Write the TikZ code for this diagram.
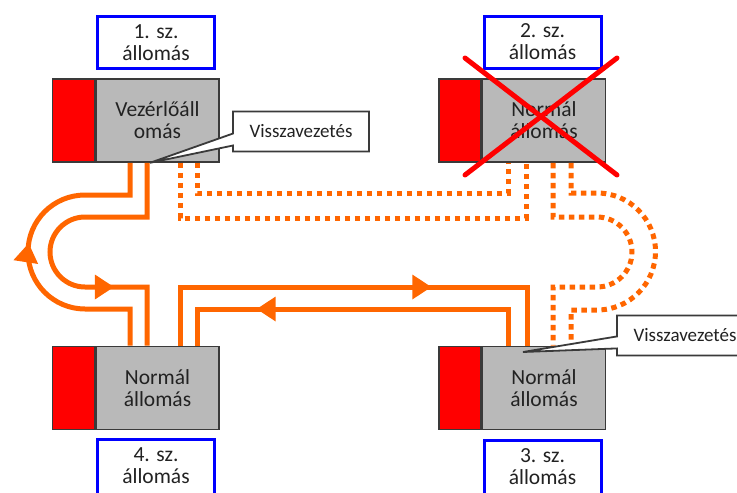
\documentclass[tikz,border=0pt]{standalone}
\usepackage{fontspec}
\setmainfont{Carlito}
\usetikzlibrary{shapes.callouts,arrows.meta,decorations.markings}

\definecolor{flow}{HTML}{FF6600}
\definecolor{boxgray}{HTML}{B9B9B9}
\definecolor{edgegray}{HTML}{3A3A3A}
\definecolor{tagblue}{HTML}{0000FF}
\definecolor{textdark}{HTML}{222222}
\definecolor{crossred}{HTML}{FF0000}

\newcommand{\stationfont}{\fontsize{21.5}{22}\selectfont}
\newcommand{\notefont}{\fontsize{19}{22}\selectfont}

\begin{document}
\begin{tikzpicture}[x=1pt, y=-1pt,
  station/.style={draw=edgegray, line width=1.6pt, fill=boxgray,
    minimum width=123pt, minimum height=83pt, inner sep=0pt,
    align=center, font=\stationfont, text=textdark},
  redpart/.style={draw=edgegray, line width=1.6pt, fill=crossred,
    minimum width=42pt, minimum height=83pt, inner sep=0pt},
  tag/.style={draw=tagblue, line width=3pt, fill=white,
    minimum width=117pt, minimum height=52pt, inner sep=0pt,
    align=center, font=\stationfont, text=textdark},
  note/.style={rectangle callout, draw=edgegray, line width=1.8pt, fill=white,
    minimum width=136pt, minimum height=40pt, inner sep=0pt,
    callout pointer width=12pt, font=\notefont, text=textdark},
  flowline/.style={color=flow, line width=5pt},
  dotline/.style={flowline, dash pattern=on 5.5pt off 4.5pt},
  midtip/.style={postaction={decorate}, decoration={markings,
    mark=at position #1 with {\arrow{Triangle[length=19pt,width=25pt,line width=0pt]}}}},
  cross/.style={draw=crossred, line width=5pt, line cap=round}
]
\useasboundingbox (0,0) rectangle (737,493);

% stations (grey body with red side part)
\node[station] (s1) at (157.5,120.5) {Vezérlőáll\\omás};
\node[station] (s2) at (544,120.5) {Normál\\állomás};
\node[station] (s3) at (544,388) {Normál\\állomás};
\node[station] (s4) at (157.5,388) {Normál\\állomás};
\node[redpart, anchor=east] (r1) at (s1.west) {};
\node[redpart, anchor=east] (r2) at (s2.west) {};
\node[redpart, anchor=east] (r3) at (s3.west) {};
\node[redpart, anchor=east] (r4) at (s4.west) {};

% station number tags
\node[tag] (t1) at (156,42.5) {1. sz.\\állomás};
\node[tag] (t2) at (542.5,42) {2. sz.\\állomás};
\node[tag, minimum height=74pt, anchor=north] (t4) at (156,438) {4. sz.\\állomás\\\mbox{}};
\node[tag, minimum height=74pt, anchor=north] (t3) at (542.5,439) {3. sz.\\állomás\\\mbox{}};

% loop between station 1 and station 4
\draw[flowline, midtip=180pt] (130,0 |- s4.north) -- (130,309) -- (85,309)
  .. controls (53.5,309) and (28,283.5) .. (28,252)
  .. controls (28,220.5) and (53.5,195) .. (85,195)
  -- (130,195) -- (130,0 |- s1.south);
\draw[flowline, midtip=255pt] (147,0 |- s1.south) -- (147,217) -- (85,217)
  .. controls (65.7,217) and (50,232.7) .. (50,252)
  .. controls (50,271.3) and (65.7,287) .. (85,287)
  -- (147,287) -- (147,0 |- s4.north);

% lines between station 4 and station 3
\draw[flowline, midtip=310pt] (180,0 |- s4.north) -- (180,287) -- (527,287) -- (527,0 |- s3.north);
\draw[flowline, midtip=288pt] (508,0 |- s3.north) -- (508,309) -- (197,309) -- (197,0 |- s4.north);

% dotted lines from station 1 to station 2
\draw[dotline] (180,0 |- s1.south) -- (180,218) -- (526,218) -- (526,0 |- s2.south);
\draw[dotline] (197,0 |- s1.south) -- (197,193) -- (508,193) -- (508,0 |- s2.south);

% dotted loop from station 2 to station 3
\draw[dotline] (571,0 |- s2.south) -- (571,193) -- (597,193)
  .. controls (629.3,193) and (655.5,219.2) .. (655.5,251.5)
  .. controls (655.5,283.8) and (629.3,310) .. (597,310)
  -- (571,310) -- (571,0 |- s3.north);
\draw[dotline] (553,0 |- s2.south) -- (553,217) -- (597,217)
  .. controls (616.3,217) and (632,232.7) .. (632,252)
  .. controls (632,271.3) and (616.3,287) .. (597,287)
  -- (553,287) -- (553,0 |- s3.north);

% callouts
\coordinate (p3) at (523,352);
\node[note, callout absolute pointer={(150,0 |- s1.south)}] (v1) at (301,131.5) {Visszavezetés};
\node[note, callout absolute pointer={(p3)}] (v3) at (685,335.5) {Visszavezetés};

% station 2 crossed out
\draw[cross] (465,58) -- (617,175);
\draw[cross] (617,58) -- (465,175);
\end{tikzpicture}
\end{document}
